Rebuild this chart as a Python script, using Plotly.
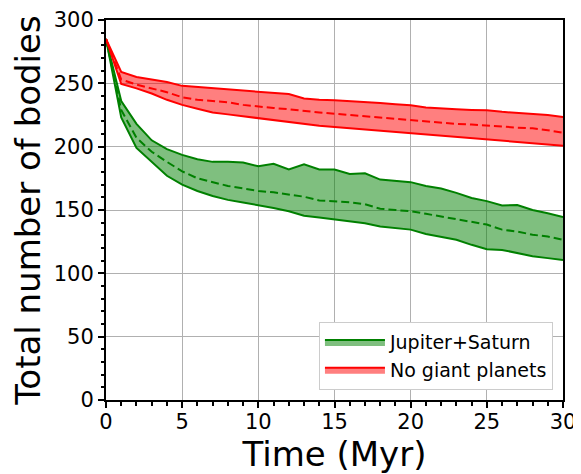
import plotly.graph_objects as go

time_myr = list(range(0, 31))

js_upper = [285, 236, 218, 205, 198, 193.5, 190, 188, 188, 187.5, 184.5, 186.5, 182, 186, 182, 182,
            178.5, 179, 174, 173, 172, 169, 167, 163.5, 159.5, 157, 153.5, 154, 150, 147.5, 144.5]
js_mean = [285, 229, 207, 196, 188, 180.5, 175, 172, 169, 167, 165, 164, 162.5, 160.5, 157.5, 157,
           156, 154.5, 151, 150, 149, 147, 145, 143, 141, 138.5, 134.5, 133, 130.5, 129, 126.5]
js_lower = [285, 223, 199, 188, 177, 170, 165, 161, 158, 156, 154, 151.5, 149, 145.5, 144, 142.5,
            141, 139.5, 137, 136, 134.5, 131, 128.5, 126.5, 122.5, 119, 118.5, 116, 113.5, 112, 110.5]

ng_upper = [285, 259, 255, 253, 251, 248, 247, 246, 245, 244, 243, 242.5, 241.5, 238, 237, 236.6,
            236, 235, 234.5, 233.5, 232.7, 231, 230, 229.5, 229, 228.7, 227.5, 226.6, 226, 225, 223.5]
ng_mean = [285, 253, 249, 246, 243, 239, 237, 236, 235, 233, 231.5, 230.5, 229.5, 228, 227, 226,
           225, 224, 223, 222, 221, 220, 218.5, 218, 217.5, 217, 216, 215, 214.5, 213, 211]
ng_lower = [285, 249.5, 246, 242, 237, 233, 230, 227, 225.5, 224, 222, 220.5, 219, 217.5, 216.5, 215.5,
            214.5, 213.5, 213, 212, 210.8, 209.5, 208.5, 207.5, 206.5, 205.5, 204.5, 203.5, 202.5, 201.5, 200.8]

series = [
    ("Jupiter+Saturn", js_lower, js_mean, js_upper, "#008000", "rgba(0,128,0,0.5)"),
    ("No giant planets", ng_lower, ng_mean, ng_upper, "#ff0000", "rgba(255,0,0,0.5)"),
]

fig = go.Figure()
for name, lo, mid, up, col, fillcol in series:
    fig.add_trace(go.Scatter(x=time_myr, y=lo, mode="lines", line=dict(color=col, width=2),
                             showlegend=False, hoverinfo="skip"))
    fig.add_trace(go.Scatter(x=time_myr, y=up, mode="lines", line=dict(color=col, width=2),
                             fill="tonexty", fillcolor=fillcol, name=name))
    fig.add_trace(go.Scatter(x=time_myr, y=mid, mode="lines",
                             line=dict(color=col, width=2, dash="8px,4px"), showlegend=False))

axis_common = dict(
    showline=True, mirror=True, linecolor="black", linewidth=2,
    ticks="outside", ticklen=6, tickwidth=1.5, tickcolor="black",
    showgrid=True, gridcolor="#b0b0b0", gridwidth=1, zeroline=False,
    tickfont=dict(size=21, color="black"), automargin=False,
)

fig.update_xaxes(range=[0, 30], dtick=5, tick0=0, ticklabelstandoff=-4,
                 minor=dict(dtick=1, ticks="outside", ticklen=3.5, tickcolor="black", showgrid=False),
                 title=dict(text="Time (Myr)", font=dict(size=34, color="black"), standoff=10),
                 **axis_common)
fig.update_yaxes(range=[0, 300], dtick=50, tick0=0,
                 minor=dict(dtick=10, ticks="outside", ticklen=3.5, tickcolor="black", showgrid=False),
                 title=dict(text="Total number of bodies", font=dict(size=34, color="black"), standoff=6),
                 **axis_common)

# page body has an 8px default margin, so the figure is offset by (8, 8) in the window
fig.update_layout(
    width=573, height=466,
    margin=dict(l=98, r=18, t=12, b=74),
    paper_bgcolor="white", plot_bgcolor="white",
    font=dict(family="DejaVu Sans", color="black"),
    legend=dict(x=0.978, y=0.026, xanchor="right", yanchor="bottom",
                bgcolor="white", bordercolor="#cccccc", borderwidth=1,
                itemwidth=60, tracegroupgap=6,
                font=dict(size=19, color="black"), traceorder="normal"),
)

fig.write_html("out.html")
